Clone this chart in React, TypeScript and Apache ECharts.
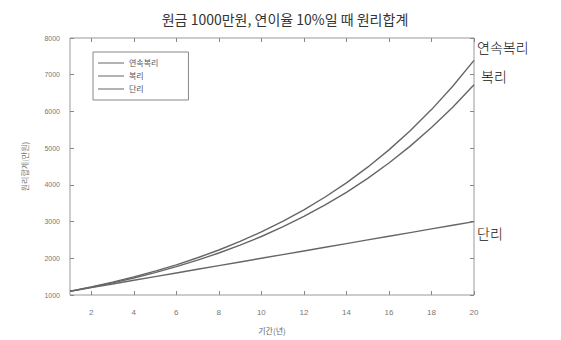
import React, { useEffect, useRef } from "react";
import * as echarts from "echarts";

const years = [1, 2, 3, 4, 5, 6, 7, 8, 9, 10, 11, 12, 13, 14, 15, 16, 17, 18, 19, 20];
const continuous = [1105.2, 1221.4, 1349.9, 1491.8, 1648.7, 1822.1, 2013.8, 2225.5, 2459.6, 2718.3, 3004.2, 3320.1, 3669.3, 4055.2, 4481.7, 4953.0, 5473.9, 6049.6, 6685.9, 7389.1];
const compound = [1100, 1210, 1331, 1464.1, 1610.5, 1771.6, 1948.7, 2143.6, 2357.9, 2593.7, 2853.1, 3138.4, 3452.3, 3797.5, 4177.2, 4595.0, 5054.5, 5559.9, 6115.9, 6727.5];
const simple = [1100, 1200, 1300, 1400, 1500, 1600, 1700, 1800, 1900, 2000, 2100, 2200, 2300, 2400, 2500, 2600, 2700, 2800, 2900, 3000];
const xTicks = [2, 4, 6, 8, 10, 12, 14, 16, 18, 20];
const seriesNames = ["연속복리", "복리", "단리"];
const endLabels = ["연속복리", "복리", "단리"];

export default function App() {
  const ref = useRef<HTMLDivElement>(null);
  useEffect(() => {
    if (!ref.current) return;
    const chart = echarts.init(ref.current, null, { renderer: "svg" });
    const font = "'Noto Sans CJK KR', sans-serif";
    const offsets = [[-5, -13], [-1, -9], [-5, 11]];
    const mk = (name: string, vals: number[], label: string, off: number[]) => ({
      name,
      type: "line",
      xAxisIndex: 0,
      yAxisIndex: 0,
      data: years.map((y, i) => [y, vals[i]]),
      showSymbol: false,
      lineStyle: { color: "#666", width: 1.4 },
      itemStyle: { color: "#666" },
      endLabel: {
        show: true,
        formatter: label,
        color: "#111",
        fontSize: 14,
        fontWeight: 300,
        fontFamily: font,
        offset: off,
      },
    });
    const tick = { show: true, inside: true, length: 4, lineStyle: { color: "#888" } };
    chart.setOption({
      animation: false,
      backgroundColor: "#fff",
      title: {
        text: "원금 1000만원, 연이율 10%일 때 원리합계",
        left: 280,
        textAlign: "center",
        top: 7,
        textStyle: { fontSize: 14, fontWeight: "normal", color: "#333", fontFamily: font },
      },
      legend: {
        data: seriesNames,
        orient: "vertical",
        left: 93,
        top: 52,
        padding: [7, 30, 7, 5],
        itemGap: 5,
        itemWidth: 26,
        itemHeight: 8,
        borderColor: "#888",
        borderWidth: 1,
        icon: "path://M0,4L26,4L26,5L0,5Z",
        textStyle: { fontSize: 8, color: "#555", fontFamily: font },
      },
      grid: {
        left: 70,
        right: 87,
        top: 38,
        bottom: 45,
        show: true,
        borderColor: "#999",
        borderWidth: 1,
        containLabel: false,
        outerBoundsMode: "none",
      },
      xAxis: [
        {
          type: "value",
          min: 1,
          max: 20,
          name: "기간(년)",
          nameLocation: "middle",
          nameGap: 31,
          nameTextStyle: { fontSize: 8, color: "#666", fontFamily: font },
          axisLine: { show: false },
          axisTick: { ...tick, customValues: xTicks },
          splitLine: { show: false },
          axisLabel: { fontSize: 8, color: "#777", margin: 13, customValues: xTicks },
        },
        {
          type: "value",
          position: "top",
          min: 1,
          max: 20,
          axisLine: { show: false },
          axisTick: { ...tick, customValues: xTicks },
          splitLine: { show: false },
          axisLabel: { show: false },
        },
      ],
      yAxis: [
        {
          type: "value",
          min: 1000,
          max: 8000,
          interval: 1000,
          name: "원리합계(만원)",
          nameLocation: "middle",
          nameGap: 42,
          nameTextStyle: { fontSize: 8, color: "#777", fontFamily: font },
          axisLine: { show: false },
          axisTick: tick,
          splitLine: { show: false },
          axisLabel: { fontSize: 7, color: "#777", margin: 10, formatter: (v: number) => String(v) },
        },
        {
          type: "value",
          position: "right",
          min: 1000,
          max: 8000,
          interval: 1000,
          axisLine: { show: false },
          axisTick: tick,
          splitLine: { show: false },
          axisLabel: { show: false },
        },
      ],
      series: [
        mk(seriesNames[0], continuous, endLabels[0], offsets[0]),
        mk(seriesNames[1], compound, endLabels[1], offsets[1]),
        mk(seriesNames[2], simple, endLabels[2], offsets[2]),
      ],
    });
    return () => chart.dispose();
  }, []);
  return <div ref={ref} style={{ position: "fixed", left: 0, top: 0, width: 561, height: 340 }} />;
}
